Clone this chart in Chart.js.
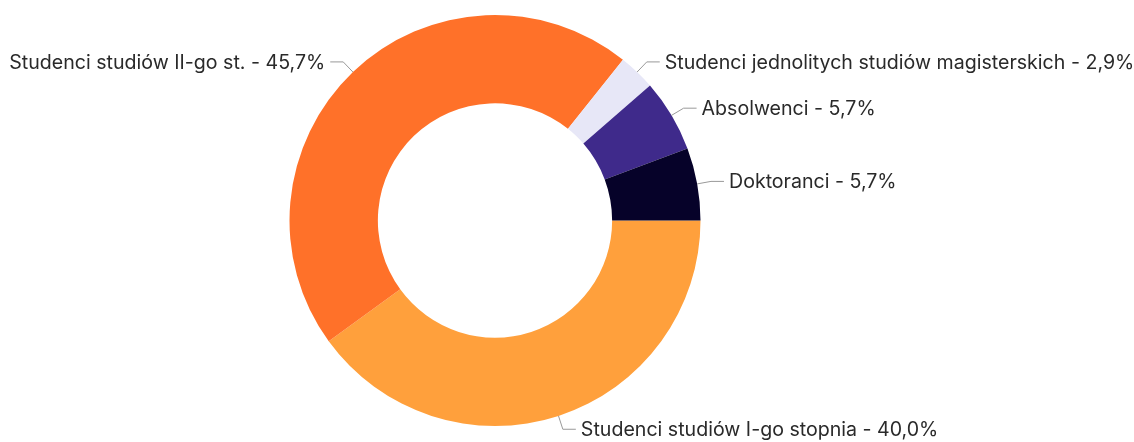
<!DOCTYPE html>
<html>
<head>
<meta charset="utf-8">
<script src="https://cdn.jsdelivr.net/npm/chart.js@4/dist/chart.umd.min.js"></script>
<style>
  html, body { margin: 0; padding: 0; background: #fff; }
  #wrap { width: 1134px; height: 442px; position: relative; }
</style>
</head>
<body>
<div id="wrap"><canvas id="students-chart"></canvas></div>
<script>
// student groups, in drawing order (clockwise from 3 o'clock)
var groups = [
  'Studenci studiów I-go stopnia',
  'Studenci studiów II-go st.',
  'Studenci jednolitych studiów magisterskich',
  'Absolwenci',
  'Doktoranci'
];
var shares = [40.0, 45.7, 2.9, 5.7, 5.7];
var colors = ['#ffa03c', '#ff7129', '#e7e7f7', '#3f2a8b', '#060229'];

function fmt(v) {
  return v.toFixed(1).replace('.', ',') + '%';
}

// labels outside the ring with a bent connector line
var outsideLabels = {
  id: 'outsideLabels',
  afterDatasetsDraw: function (chart) {
    var ctx = chart.ctx;
    var meta = chart.getDatasetMeta(0);
    ctx.save();
    ctx.font = '19.6px Inter, "Noto Sans", sans-serif';
    ctx.textBaseline = 'middle';
    meta.data.forEach(function (arc, i) {
      var p = arc.getProps(['x', 'y', 'startAngle', 'endAngle', 'outerRadius'], true);
      var mid = (p.startAngle + p.endAngle) / 2;
      var cos = Math.cos(mid), sin = Math.sin(mid);
      var side = cos >= 0 ? 1 : -1;
      var x0 = p.x + cos * p.outerRadius, y0 = p.y + sin * p.outerRadius;
      var x1 = p.x + cos * (p.outerRadius + 14), y1 = p.y + sin * (p.outerRadius + 14);
      var x2 = x1 + side * 13;

      ctx.strokeStyle = '#999';
      ctx.lineWidth = 1;
      ctx.beginPath();
      ctx.moveTo(x0, y0);
      ctx.lineTo(x1, y1);
      ctx.lineTo(x2, y1);
      ctx.stroke();

      ctx.fillStyle = '#2a2a2a';
      ctx.textAlign = side > 0 ? 'left' : 'right';
      ctx.fillText(groups[i] + ' - ' + fmt(shares[i]), x2 + side * 5, y1 + 1);
    });
    ctx.restore();
  }
};

new Chart('students-chart', {
  type: 'doughnut',
  data: {
    labels: groups,
    datasets: [{
      data: shares,
      backgroundColor: colors,
      borderWidth: 0
    }]
  },
  options: {
    responsive: true,
    maintainAspectRatio: false,
    animation: false,
    rotation: 90,
    cutout: '57%',
    layout: { padding: { top: 15, bottom: 16, left: 100, right: 244 } },
    plugins: {
      legend: { display: false },
      tooltip: { enabled: false }
    }
  },
  plugins: [outsideLabels]
});
</script>
</body>
</html>
